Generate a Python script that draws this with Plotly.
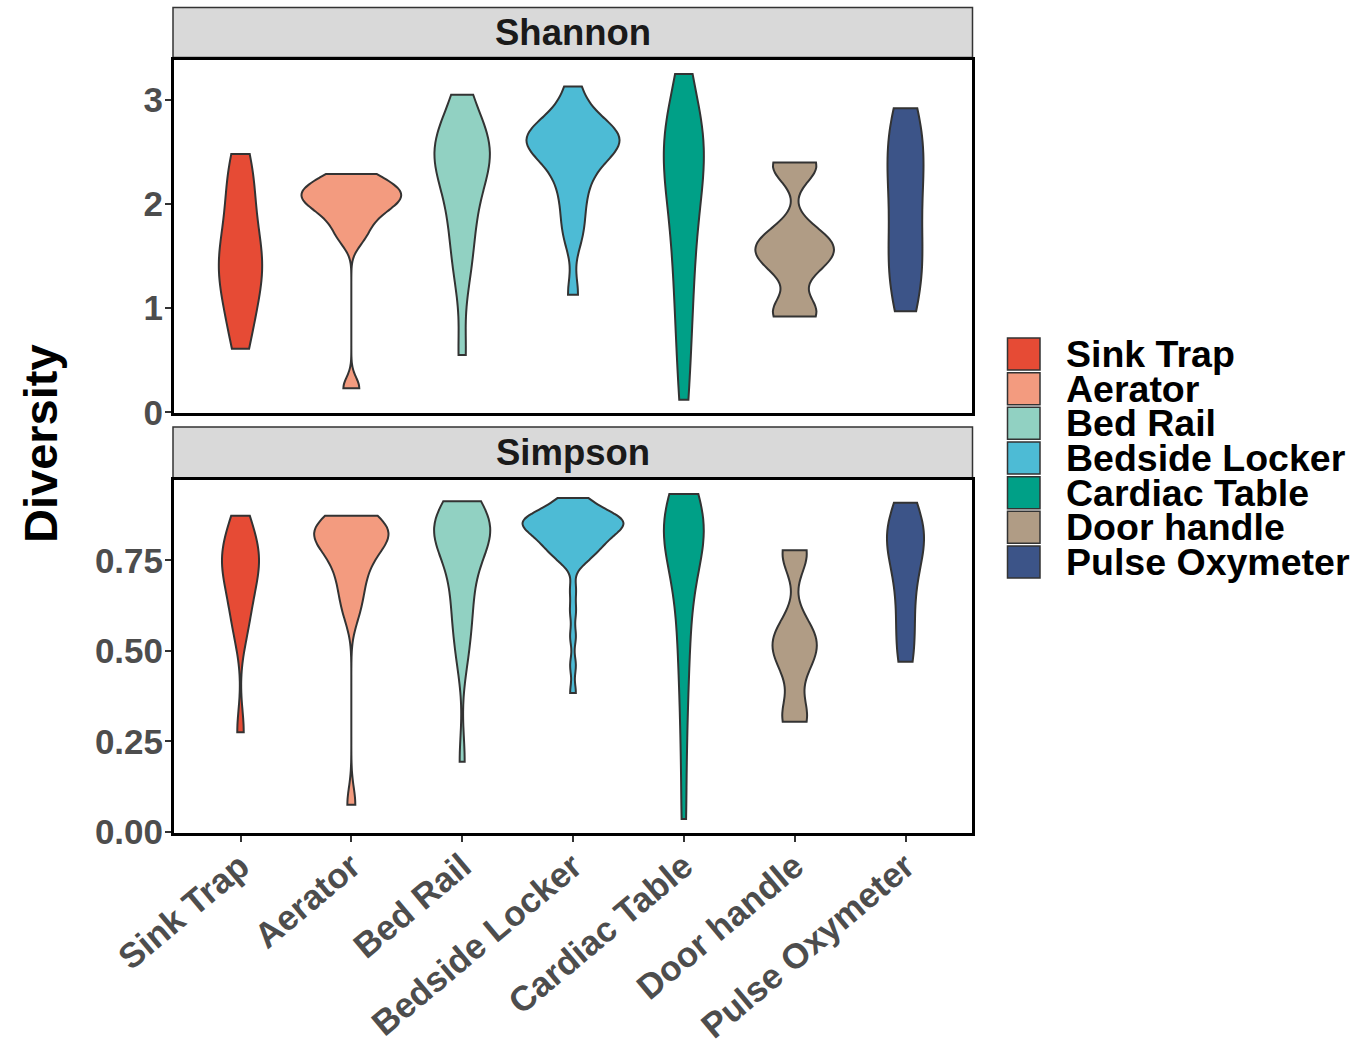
import numpy as np
import plotly.graph_objects as go

# ---------------- data ----------------
categories = ["Sink Trap", "Aerator", "Bed Rail", "Bedside Locker",
              "Cardiac Table", "Door handle", "Pulse Oxymeter"]
colors = ["#E64B35", "#F39B7F", "#91D1C2", "#4DBBD5", "#00A087", "#B09C85", "#3C5488"]
facets = ["Shannon", "Simpson"]

shannon_sink_trap = [0.61, 0.78, 0.95, 1.08, 1.20, 1.30, 1.38, 1.45, 1.52, 1.62, 1.75, 1.90, 2.05, 2.20, 2.35, 2.48]
shannon_aerator = [0.23, 1.66, 1.78, 1.88, 1.95, 2.00, 2.04, 2.07, 2.10, 2.14, 2.18, 2.23, 2.29]
shannon_bed_rail = [0.55, 1.25, 1.50, 1.70, 1.88, 2.05, 2.20, 2.32, 2.40, 2.45, 2.50, 2.56, 2.63, 2.72, 2.82, 3.05]
shannon_bedside_locker = [1.13, 1.65, 1.82, 2.00, 2.15, 2.28, 2.38, 2.46, 2.52, 2.56, 2.59, 2.62, 2.64,
                          2.66, 2.69, 2.73, 2.80, 2.92, 3.13]
shannon_cardiac_table = [0.12, 0.50, 0.85, 1.10, 1.35, 1.58, 1.78, 1.96, 2.12, 2.26, 2.38, 2.48, 2.57,
                         2.64, 2.71, 2.78, 2.87, 3.25]
shannon_door_handle = [0.92, 0.95, 1.00, 1.36, 1.45, 1.51, 1.56, 1.61, 1.67, 1.74, 2.34, 2.37, 2.40]
shannon_pulse_oxymeter = [0.97, 1.05, 1.20, 1.35, 1.48, 1.55, 1.68, 1.85, 2.00, 2.15, 2.28, 2.38, 2.45,
                          2.60, 2.75, 2.85, 2.92]

simpson_sink_trap = [0.275, 0.54, 0.60, 0.64, 0.68, 0.71, 0.735, 0.755, 0.775, 0.80, 0.835, 0.873]
simpson_aerator = [0.075, 0.60, 0.64, 0.68, 0.71, 0.74, 0.765, 0.785, 0.80, 0.81, 0.82, 0.828, 0.835,
                   0.843, 0.852, 0.862, 0.873]
simpson_bed_rail = [0.194, 0.47, 0.53, 0.58, 0.62, 0.66, 0.70, 0.74, 0.77, 0.795, 0.81, 0.822, 0.832,
                    0.84, 0.848, 0.856, 0.865, 0.875, 0.89, 0.913]
simpson_bedside_locker = [0.384, 0.46, 0.54, 0.61, 0.67, 0.742, 0.752, 0.761, 0.769, 0.776, 0.783,
                          0.789, 0.795, 0.801, 0.806, 0.811, 0.816, 0.821, 0.825, 0.829, 0.833, 0.837,
                          0.841, 0.845, 0.848, 0.851, 0.854, 0.857, 0.860, 0.862, 0.864, 0.866, 0.868,
                          0.870, 0.873, 0.877, 0.883, 0.892, 0.903, 0.912, 0.918, 0.922]
simpson_cardiac_table = [0.036, 0.22, 0.36, 0.46, 0.54, 0.61, 0.67, 0.72, 0.76, 0.79, 0.815, 0.83,
                         0.845, 0.855, 0.865, 0.872, 0.88, 0.893, 0.933]
simpson_door_handle = [0.304, 0.314, 0.33, 0.44, 0.475, 0.50, 0.515, 0.53, 0.55, 0.575, 0.76, 0.77, 0.778]
simpson_pulse_oxymeter = [0.47, 0.50, 0.56, 0.62, 0.68, 0.73, 0.77, 0.795, 0.815, 0.83, 0.845, 0.865,
                          0.909]

shannon_values = [shannon_sink_trap, shannon_aerator, shannon_bed_rail, shannon_bedside_locker,
                  shannon_cardiac_table, shannon_door_handle, shannon_pulse_oxymeter]
simpson_values = [simpson_sink_trap, simpson_aerator, simpson_bed_rail, simpson_bedside_locker,
                  simpson_cardiac_table, simpson_door_handle, simpson_pulse_oxymeter]

shannon_ticks = [0, 1, 2, 3]
shannon_tick_labels = ["0", "1", "2", "3"]
simpson_ticks = [0.0, 0.25, 0.50, 0.75]
simpson_tick_labels = ["0.00", "0.25", "0.50", "0.75"]

# ---------------- styling ----------------
W, H = 1358, 1041
FONT = "Liberation Sans"
shannon_widths = [0.39, 0.90, 0.50, 0.84, 0.36, 0.71, 0.325]
simpson_widths = [0.334, 0.67, 0.505, 0.91, 0.36, 0.40, 0.334]


def px_x(p):
    return p / W


def px_y(p):
    return 1 - p / H


def bw_nrd0(v):
    a = np.asarray(v, float)
    hi = np.std(a, ddof=1)
    q75, q25 = np.percentile(a, [75, 25])
    lo = min(hi, (q75 - q25) / 1.34)
    if lo <= 0:
        lo = hi if hi > 0 else 1.0
    return 0.9 * lo * len(a) ** -0.2


fig = go.Figure()
for panel, (vals_list, widths) in enumerate([(shannon_values, shannon_widths),
                                              (simpson_values, simpson_widths)]):
    xa = "x" if panel == 0 else "x2"
    ya = "y" if panel == 0 else "y2"
    for cat, col, vals, w in zip(categories, colors, vals_list, widths):
        fig.add_trace(go.Violin(
            x=[cat] * len(vals), y=vals, xaxis=xa, yaxis=ya,
            name=cat, width=w, spanmode="hard", bandwidth=bw_nrd0(vals),
            points=False, fillcolor=col, opacity=1,
            line=dict(color="#333333", width=2),
            box_visible=False, meanline_visible=False, showlegend=False,
            hoveron="violins",
        ))

x_dom = [px_x(174), px_x(972)]
tickfont = dict(family=FONT, size=35, color="#4D4D4D", weight="bold")
common_x = dict(type="category", categoryorder="array", categoryarray=categories,
                range=[-0.6, 6.6], domain=x_dom, showline=True, mirror=True,
                linecolor="black", linewidth=3, showgrid=False, zeroline=False,
                fixedrange=True)
common_y = dict(ticks="outside", ticklen=6, tickwidth=1.5, tickcolor="#333333",
                tickfont=tickfont, showline=True, mirror=True, linecolor="black",
                linewidth=3, showgrid=False, zeroline=False, ticklabelstandoff=-5)
fig.update_layout(
    xaxis=dict(**common_x, anchor="y", showticklabels=False, ticks=""),
    xaxis2=dict(**common_x, anchor="y2", ticks="outside", ticklen=6, tickwidth=1.5,
                tickcolor="#333333", tickangle=-40, tickfont=tickfont,
                ticklabelstandoff=-10),
    yaxis=dict(**common_y, domain=[px_y(413), px_y(60)], range=[-0.007, 3.384], anchor="x",
               tickvals=shannon_ticks, ticktext=shannon_tick_labels),
    yaxis2=dict(**common_y, domain=[px_y(833), px_y(480)], range=[-0.003, 0.972], anchor="x2",
                tickvals=simpson_ticks, ticktext=simpson_tick_labels),
    violinmode="overlay",
    width=W, height=H,
    margin=dict(l=0, r=0, t=0, b=0, autoexpand=False),
    paper_bgcolor="white", plot_bgcolor="white",
    showlegend=False,
)

shapes = []
annotations = []
# facet strips
for label, (top, bot) in zip(facets, [(7.5, 57.5), (427, 478)]):
    shapes.append(dict(type="rect", xref="paper", yref="paper",
                       x0=px_x(173), x1=px_x(972.5), y0=px_y(bot), y1=px_y(top),
                       fillcolor="#D9D9D9", line=dict(color="#333333", width=1.5),
                       layer="below"))
    annotations.append(dict(text=label, xref="paper", yref="paper",
                            x=px_x(573), y=px_y((top + bot) / 2), showarrow=False,
                            xanchor="center", yanchor="middle",
                            font=dict(family=FONT, size=36.5, color="#1A1A1A", weight="bold")))

# y-axis title
annotations.append(dict(text="Diversity", xref="paper", yref="paper",
                        x=px_x(41), y=px_y(444), showarrow=False, textangle=-90,
                        xanchor="center", yanchor="middle",
                        font=dict(family=FONT, size=47, color="black", weight="bold")))

# legend (drawn keys)
for i, (cat, col) in enumerate(zip(categories, colors)):
    cy = 354 + i * 34.67
    shapes.append(dict(type="rect", xref="paper", yref="paper",
                       x0=px_x(1007.5), x1=px_x(1040), y0=px_y(cy + 16), y1=px_y(cy - 16),
                       fillcolor=col, line=dict(color="#333333", width=1.5)))
    annotations.append(dict(text=cat, xref="paper", yref="paper",
                            x=px_x(1064), y=px_y(cy), showarrow=False,
                            xanchor="left", yanchor="middle",
                            font=dict(family=FONT, size=37.5, color="black", weight="bold")))

fig.update_layout(shapes=shapes, annotations=annotations)
fig.write_html("out.html", config={"displayModeBar": False},
               post_script="document.body.style.margin='0px';document.body.style.overflow='hidden';")
